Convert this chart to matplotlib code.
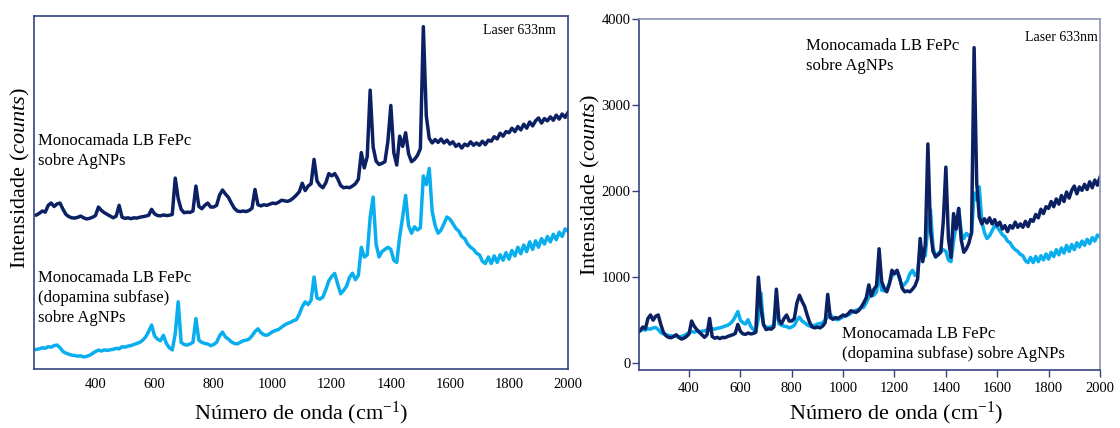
import numpy as np
import matplotlib
matplotlib.use("Agg")
import matplotlib.pyplot as plt

plt.rcParams['font.family'] = ['Liberation Serif', 'DejaVu Serif']
plt.rcParams['mathtext.fontset'] = 'custom'
plt.rcParams['mathtext.rm'] = 'Liberation Serif'
plt.rcParams['mathtext.it'] = 'Liberation Serif:italic'

# Raman shift grid (cm-1)
wavenumber = np.arange(200, 2001, 10)

# FePc LB monolayer on AgNPs (counts)
fepc_agnp = [
    350, 380, 420, 400, 520, 560, 500, 545, 560, 450,   # 200-290
    360, 320, 300, 295, 310, 330, 300, 280, 290, 310,   # 300-390
    340, 490, 430, 390, 360, 330, 300, 330, 520, 310,   # 400-490
    290, 300, 285, 300, 295, 310, 320, 330, 345, 450,   # 500-590
    370, 340, 335, 350, 340, 345, 360, 1000, 640, 450,  # 600-690
    390, 400, 395, 420, 860, 500, 460, 520, 560, 490,   # 700-790
    490, 520, 700, 790, 720, 660, 560, 470, 420, 410,   # 800-890
    420, 410, 430, 470, 800, 530, 510, 530, 520, 540,   # 900-990
    560, 550, 575, 610, 600, 590, 610, 650, 700, 760,   # 1000-1090
    910, 780, 860, 900, 1330, 950, 870, 830, 920, 1080, # 1100-1190
    1040, 1080, 990, 870, 830, 840, 830, 860, 900, 980, # 1200-1290
    1450, 1180, 1380, 2550, 1550, 1300, 1240, 1260, 1290, 1650,  # 1300-1390
    2280, 1450, 1230, 1740, 1560, 1800, 1430, 1290, 1330, 1400,  # 1400-1490
    1520, 3670, 2100, 1700, 1620, 1680, 1630, 1690, 1620, 1670,  # 1500-1590
    1600, 1640, 1560, 1600, 1530, 1600, 1570, 1640, 1580, 1620,  # 1600-1690
    1580, 1650, 1590, 1670, 1650, 1730, 1690, 1790, 1740, 1820,  # 1700-1790
    1800, 1880, 1820, 1910, 1850, 1950, 1880, 1990, 1920, 2010,  # 1800-1890
    2060, 1970, 2050, 2010, 2080, 2020, 2110, 2040, 2130, 2070,  # 1900-1990
    2160,                                                        # 2000
]

# FePc LB monolayer (dopamine subphase) on AgNPs (counts)
fepc_dopa_agnp = [
    375, 380, 390, 385, 400, 395, 410, 415, 390, 355,   # 200-290
    340, 330, 322, 318, 312, 315, 305, 310, 320, 338,   # 300-390
    355, 368, 360, 370, 365, 372, 375, 385, 380, 400,   # 400-490
    395, 405, 410, 420, 430, 440, 460, 490, 540, 600,   # 500-590
    500, 470, 455, 505, 430, 390, 370, 520, 815, 440,   # 600-690
    420, 415, 425, 440, 660, 460, 440, 430, 425, 410,   # 700-790
    420, 440, 500, 535, 490, 470, 445, 430, 425, 440,   # 800-890
    455, 460, 470, 500, 540, 565, 530, 510, 505, 520,   # 900-990
    540, 550, 560, 580, 600, 615, 625, 640, 650, 700,   # 1000-1090
    770, 815, 790, 830, 1045, 850, 840, 860, 930, 1010, # 1100-1190
    1050, 1078, 980, 890, 920, 960, 1040, 1080, 1020, 1060,  # 1200-1290
    1320, 1230, 1250, 1600, 1785, 1350, 1230, 1280, 1300, 1320, # 1300-1390
    1300, 1200, 1180, 1420, 1600, 1800, 1520, 1450, 1510, 1480, # 1400-1490
    1500, 1980, 1900, 2050, 1650, 1520, 1450, 1480, 1540, 1600, # 1500-1590
    1580, 1540, 1495, 1470, 1420, 1400, 1350, 1320, 1300, 1265, # 1600-1690
    1250, 1190, 1170, 1230, 1170, 1240, 1180, 1250, 1200, 1270, # 1700-1790
    1210, 1290, 1240, 1320, 1260, 1340, 1280, 1370, 1300, 1380, # 1800-1890
    1320, 1400, 1350, 1420, 1370, 1440, 1390, 1460, 1420, 1490, # 1900-1990
    1470,                                                       # 2000
]

xticks = [400, 600, 800, 1000, 1200, 1400, 1600, 1800, 2000]
yticks = [0, 1000, 2000, 3000, 4000]

dark = '#0c2163'
light = '#08aeee'
frame = '#34437f'

fig = plt.figure(figsize=(11.2, 4.28), dpi=100)

# ---- left panel: stacked spectra ----
axl = fig.add_axes([0.0304, 0.137, 0.4768, 0.8256])
axl.plot(wavenumber, np.array(fepc_agnp) + 2372, color=dark, lw=2.5)
axl.plot(wavenumber, np.array(fepc_dopa_agnp) * 1.905 - 362, color=light, lw=2.5)
axl.set_xlim(192, 2000)
axl.set_ylim(0, 6230)
axl.set_yticks([])
axl.set_xticks(xticks)
axl.tick_params(axis='x', length=0, labelsize=10.5, pad=6)
for s in axl.spines.values():
    s.set_color(frame)
    s.set_linewidth(1.2)
axl.set_xlabel(r'Número de onda (cm$^{-1}$)', fontsize=16)
axl.xaxis.set_label_coords(0.5, -0.124)
axl.xaxis.label.set_verticalalignment('center')
axl.set_ylabel(r'Intensidade ($\mathit{counts}$)', fontsize=16)
axl.yaxis.set_label_coords(-0.026, 0.541)
axl.yaxis.label.set_verticalalignment('center')
axl.text(0.0075, 0.669, 'Monocamada LB FePc\nsobre AgNPs', transform=axl.transAxes,
         fontsize=12, va='top', ha='left', linespacing=1.35)
axl.text(0.0075, 0.281, 'Monocamada LB FePc\n(dopamina subfase)\nsobre AgNPs',
         transform=axl.transAxes, fontsize=12, va='top', ha='left', linespacing=1.35)
axl.text(0.9775, 0.960, 'Laser 633nm', transform=axl.transAxes,
         fontsize=10, va='center', ha='right')

# ---- right panel: overlaid spectra ----
axr = fig.add_axes([0.5705, 0.1355, 0.4116, 0.8194])
axr.plot(wavenumber, fepc_dopa_agnp, color=light, lw=2.5)
axr.plot(wavenumber, fepc_agnp, color=dark, lw=2.5)
axr.set_xlim(205, 2000)
axr.set_ylim(-80, 4000)
axr.set_xticks(xticks)
axr.set_yticks(yticks)
axr.tick_params(axis='both', direction='out', length=5, width=1, colors=frame,
                labelcolor='black', labelsize=10.5)
axr.tick_params(axis='y', pad=1)
for side in ('left', 'bottom'):
    axr.spines[side].set_color(frame)
    axr.spines[side].set_linewidth(1.2)
for side in ('top', 'right'):
    axr.spines[side].set_color('#8a96b8')
    axr.spines[side].set_linewidth(1.2)
axr.set_xlabel(r'Número de onda (cm$^{-1}$)', fontsize=16)
axr.xaxis.set_label_coords(0.557, -0.125)
axr.xaxis.label.set_verticalalignment('center')
axr.set_ylabel(r'Intensidade ($\mathit{counts}$)', fontsize=16)
axr.yaxis.set_label_coords(-0.106, 0.527)
axr.yaxis.label.set_verticalalignment('center')
axr.text(0.362, 0.947, 'Monocamada LB FePc\nsobre AgNPs', transform=axr.transAxes,
         fontsize=12, va='top', ha='left', linespacing=1.35)
axr.text(0.440, 0.125, 'Monocamada LB FePc\n(dopamina subfase) sobre AgNPs',
         transform=axr.transAxes, fontsize=12, va='top', ha='left', linespacing=1.35)
axr.text(0.996, 0.947, 'Laser 633nm', transform=axr.transAxes,
         fontsize=10, va='center', ha='right')

fig.savefig('out.png', dpi=100)
